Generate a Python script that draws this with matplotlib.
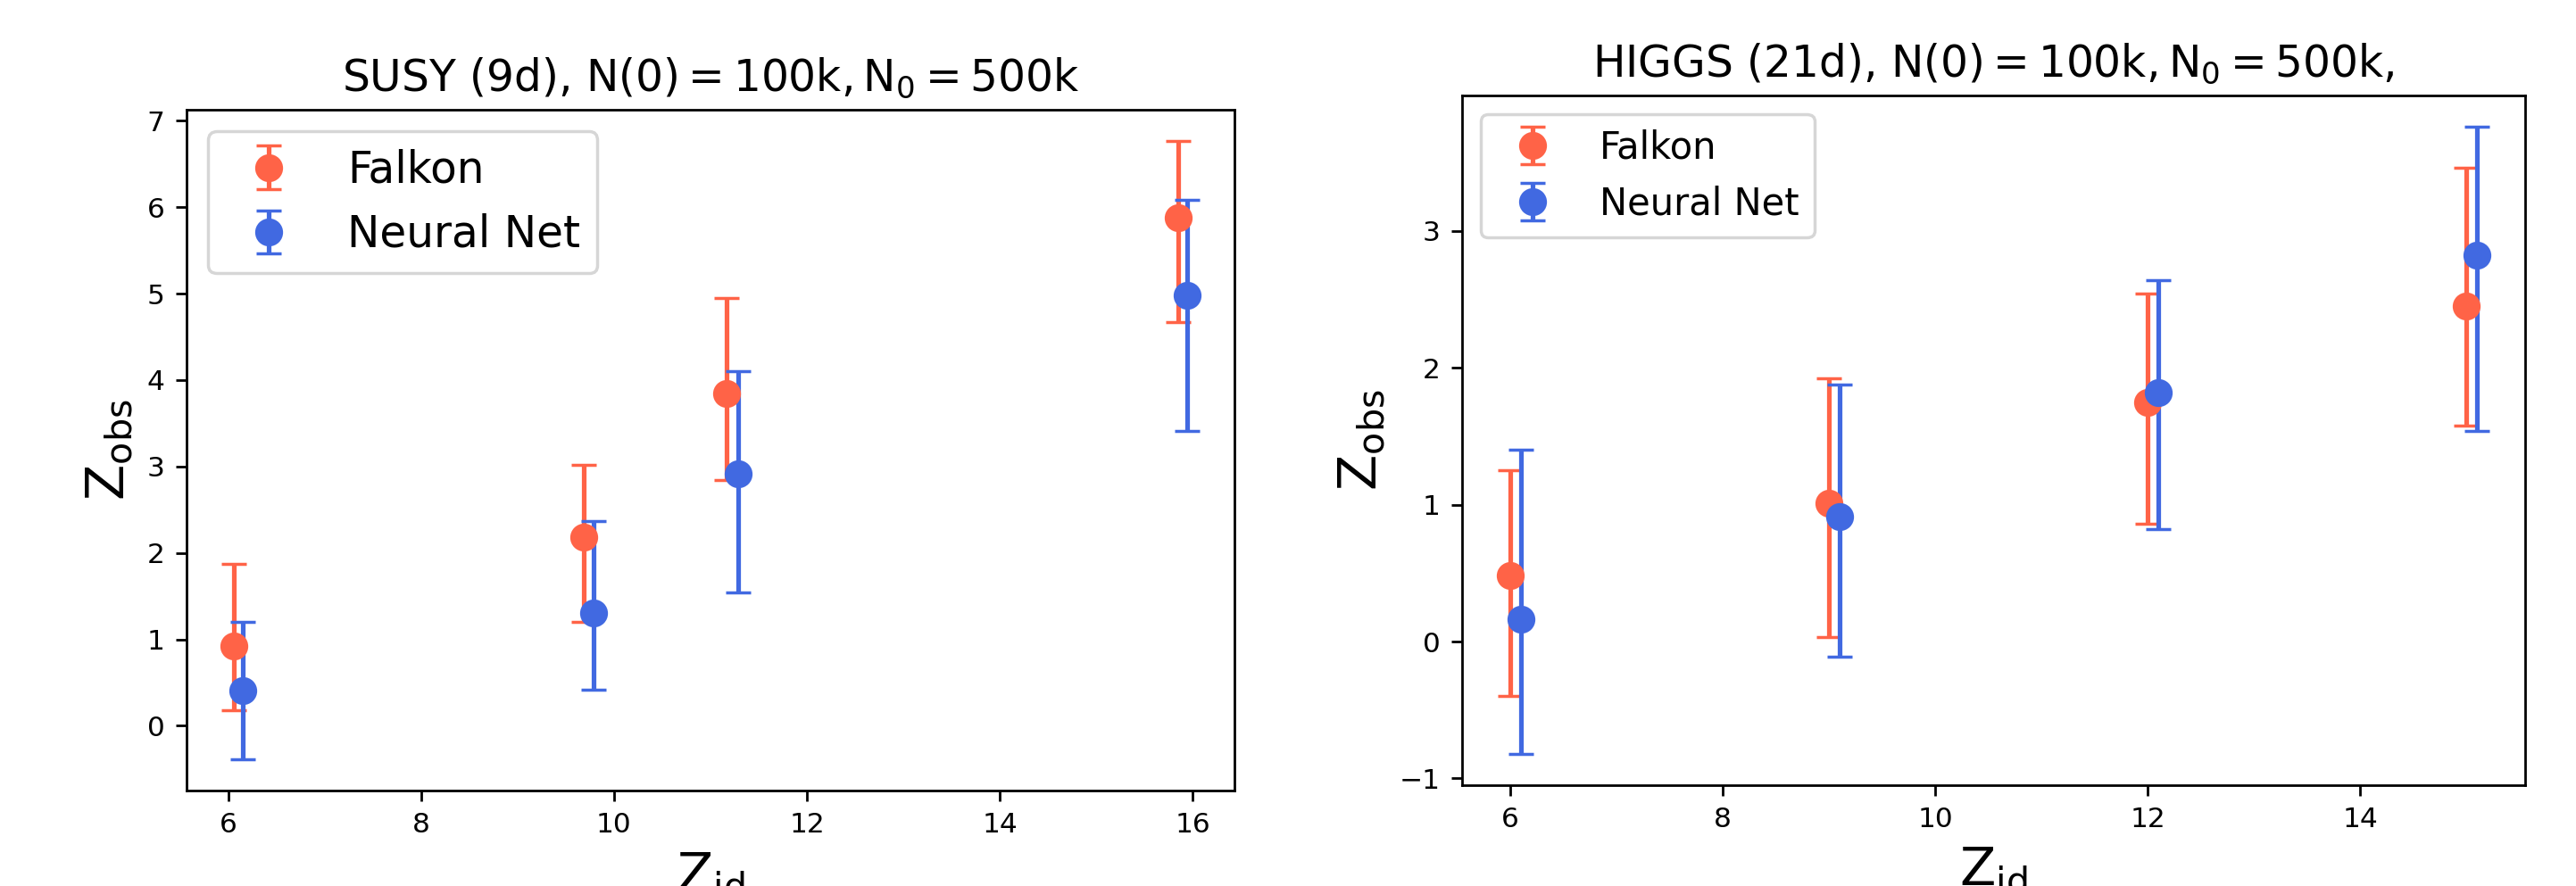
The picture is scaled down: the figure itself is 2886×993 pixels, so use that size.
import numpy as np
import matplotlib
matplotlib.use('Agg')
import matplotlib.pyplot as plt

# SUSY panel
susy_zid_falkon = [6.06, 9.69, 11.17, 15.85]
susy_zid_nn = [6.15, 9.79, 11.29, 15.94]
susy_falkon = [0.92, 2.18, 3.84, 5.88]
susy_falkon_lo = [0.18, 1.20, 2.84, 4.67]
susy_falkon_hi = [1.87, 3.02, 4.95, 6.77]
susy_nn = [0.41, 1.31, 2.92, 4.98]
susy_nn_lo = [-0.39, 0.42, 1.54, 3.41]
susy_nn_hi = [1.20, 2.37, 4.10, 6.08]

# HIGGS panel
higgs_zid_falkon = [6.0, 9.0, 12.0, 15.0]
higgs_zid_nn = [6.1, 9.1, 12.1, 15.1]
higgs_falkon = [0.48, 1.01, 1.75, 2.45]
higgs_falkon_lo = [-0.40, 0.03, 0.86, 1.58]
higgs_falkon_hi = [1.25, 1.92, 2.54, 3.46]
higgs_nn = [0.16, 0.91, 1.82, 2.82]
higgs_nn_lo = [-0.82, -0.11, 0.82, 1.54]
higgs_nn_hi = [1.40, 1.88, 2.64, 3.76]

labels = ['Falkon', 'Neural Net']
colors = ['tomato', 'royalblue']

fig = plt.figure(figsize=(2886 / 250, 993 / 250), dpi=250)
plt.rcParams['xtick.labelsize'] = 9
plt.rcParams['ytick.labelsize'] = 9

ax1 = fig.add_axes([0.0724, 0.1078, 0.4068, 0.7684])
ax2 = fig.add_axes([0.5676, 0.1138, 0.4127, 0.7785])


def draw(ax, xs, ys, los, his, legend_size, title):
    for x, y, lo, hi, lab, col in zip(xs, ys, los, his, labels, colors):
        y = np.array(y)
        err = [y - np.array(lo), np.array(hi) - y]
        ax.errorbar(x, y, yerr=err, fmt='o', color=col, ms=8,
                    elinewidth=1.5, capsize=4, label=lab)
    ax.set_xlabel(r'$\rm Z_{id}$', fontsize=17)
    ax.set_ylabel(r'$\rm Z_{obs}$', fontsize=17)
    ax.set_title(title, fontsize=14)
    ax.legend(fontsize=legend_size, loc='upper left')


draw(ax1, [susy_zid_falkon, susy_zid_nn], [susy_falkon, susy_nn],
     [susy_falkon_lo, susy_nn_lo], [susy_falkon_hi, susy_nn_hi],
     14, r'SUSY (9d), $\rm N(0)=100k, N_0=500k$')
draw(ax2, [higgs_zid_falkon, higgs_zid_nn], [higgs_falkon, higgs_nn],
     [higgs_falkon_lo, higgs_nn_lo], [higgs_falkon_hi, higgs_nn_hi],
     12, r'HIGGS (21d), $\rm N(0)=100k, N_0=500k$,')

fig.savefig('out.png', dpi=250)
